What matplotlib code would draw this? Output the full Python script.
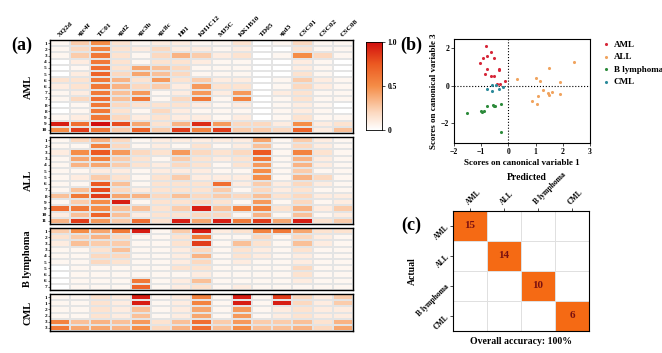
import numpy as np
import matplotlib
matplotlib.use("Agg")
import matplotlib.pyplot as plt
from matplotlib.colors import LinearSegmentedColormap

plt.rcParams['font.family'] = ['Liberation Serif', 'DejaVu Serif']
plt.rcParams['font.weight'] = 'bold'

W, H = 662, 353

# ---------------- data ----------------
aptamers = ["XQ2d", "sgc4f", "TC01", "sgd2", "sgc3b", "sgc8c", "H01", "KH1C12",
            "MJ5C", "KK1B10", "TD05", "sgd3", "CSC01", "CSC02", "CSC08"]

aml_labels = ["1", "2", "3", "4", "5", "5", "6", "6", "7", "7", "8", "8", "9", "9", "10"]
all_labels = ["1", "2", "3", "3", "4", "5", "5", "6", "7", "8", "9", "9", "10", "11"]
bly_labels = ["1", "2", "3", "3", "4", "5", "5", "6", "6", "7"]
cml_labels = ["1", "1", "2", "2", "3", "3"]

aml_values = [
    [0.05, 0.25, 0.50, 0.15, 0.05, 0.10, 0.10, 0.05, 0.05, 0.15, 0.00, 0.05, 0.20, 0.05, 0.05],
    [0.05, 0.20, 0.55, 0.15, 0.10, 0.20, 0.10, 0.10, 0.05, 0.10, 0.00, 0.00, 0.15, 0.05, 0.05],
    [0.05, 0.25, 0.60, 0.15, 0.05, 0.20, 0.35, 0.25, 0.10, 0.15, 0.00, 0.05, 0.50, 0.20, 0.05],
    [0.00, 0.10, 0.60, 0.15, 0.05, 0.15, 0.15, 0.10, 0.05, 0.05, 0.00, 0.00, 0.10, 0.05, 0.00],
    [0.00, 0.05, 0.65, 0.15, 0.40, 0.30, 0.20, 0.05, 0.05, 0.05, 0.00, 0.00, 0.10, 0.05, 0.00],
    [0.00, 0.10, 0.70, 0.20, 0.40, 0.30, 0.20, 0.05, 0.05, 0.05, 0.00, 0.00, 0.15, 0.05, 0.00],
    [0.15, 0.15, 0.60, 0.35, 0.15, 0.45, 0.15, 0.25, 0.10, 0.10, 0.00, 0.05, 0.25, 0.10, 0.05],
    [0.10, 0.15, 0.60, 0.35, 0.20, 0.25, 0.10, 0.45, 0.15, 0.15, 0.00, 0.05, 0.20, 0.10, 0.05],
    [0.05, 0.10, 0.60, 0.30, 0.45, 0.05, 0.10, 0.45, 0.10, 0.45, 0.00, 0.10, 0.15, 0.05, 0.05],
    [0.05, 0.20, 0.65, 0.30, 0.60, 0.05, 0.20, 0.60, 0.05, 0.55, 0.00, 0.05, 0.15, 0.05, 0.05],
    [0.00, 0.05, 0.60, 0.20, 0.15, 0.15, 0.15, 0.10, 0.05, 0.10, 0.00, 0.05, 0.10, 0.05, 0.00],
    [0.00, 0.05, 0.60, 0.15, 0.05, 0.20, 0.10, 0.05, 0.05, 0.05, 0.00, 0.05, 0.10, 0.05, 0.00],
    [0.05, 0.10, 0.60, 0.20, 0.10, 0.15, 0.10, 0.10, 0.05, 0.10, 0.00, 0.05, 0.15, 0.05, 0.05],
    [0.95, 0.65, 1.00, 0.80, 0.40, 0.15, 0.35, 0.90, 0.45, 0.20, 0.20, 0.10, 0.50, 0.10, 0.15],
    [0.50, 0.85, 0.60, 0.25, 0.70, 0.25, 0.85, 0.55, 0.85, 0.25, 0.25, 0.20, 0.70, 0.10, 0.30],
]

all_values = [
    [0.05, 0.20, 0.35, 0.20, 0.05, 0.10, 0.10, 0.10, 0.10, 0.10, 0.40, 0.05, 0.25, 0.10, 0.05],
    [0.05, 0.05, 0.55, 0.20, 0.05, 0.10, 0.05, 0.15, 0.05, 0.10, 0.30, 0.05, 0.20, 0.10, 0.05],
    [0.10, 0.50, 0.75, 0.45, 0.20, 0.15, 0.45, 0.20, 0.15, 0.20, 0.75, 0.05, 0.55, 0.15, 0.05],
    [0.05, 0.40, 0.55, 0.25, 0.15, 0.05, 0.25, 0.15, 0.10, 0.15, 0.60, 0.05, 0.35, 0.10, 0.05],
    [0.05, 0.35, 0.40, 0.25, 0.15, 0.10, 0.20, 0.15, 0.05, 0.15, 0.45, 0.05, 0.35, 0.10, 0.05],
    [0.05, 0.05, 0.10, 0.10, 0.05, 0.10, 0.10, 0.10, 0.05, 0.05, 0.50, 0.05, 0.25, 0.05, 0.05],
    [0.05, 0.10, 0.25, 0.15, 0.05, 0.15, 0.25, 0.10, 0.10, 0.10, 0.50, 0.05, 0.35, 0.20, 0.05],
    [0.05, 0.05, 0.75, 0.30, 0.05, 0.15, 0.15, 0.15, 0.65, 0.10, 0.25, 0.10, 0.20, 0.10, 0.05],
    [0.05, 0.30, 0.80, 0.20, 0.10, 0.15, 0.15, 0.15, 0.25, 0.05, 0.20, 0.10, 0.15, 0.05, 0.05],
    [0.30, 0.60, 0.85, 0.40, 0.35, 0.20, 0.30, 0.20, 0.25, 0.20, 0.30, 0.15, 0.20, 0.10, 0.10],
    [0.05, 0.25, 0.50, 0.95, 0.05, 0.15, 0.15, 0.20, 0.15, 0.05, 0.45, 0.05, 0.20, 0.05, 0.10],
    [0.65, 0.60, 0.50, 0.30, 0.30, 0.15, 0.25, 0.95, 0.30, 0.55, 0.55, 0.15, 0.35, 0.10, 0.25],
    [0.10, 0.30, 0.70, 0.30, 0.10, 0.15, 0.15, 0.20, 0.20, 0.05, 0.35, 0.05, 0.30, 0.05, 0.10],
    [0.35, 0.85, 0.45, 0.25, 0.65, 0.15, 0.95, 0.40, 0.95, 0.60, 0.85, 0.40, 0.95, 0.15, 0.25],
]

bly_values = [
    [0.25, 0.50, 0.40, 0.60, 0.95, 0.05, 0.25, 0.95, 0.10, 0.15, 0.55, 0.60, 0.40, 0.15, 0.15],
    [0.15, 0.25, 0.35, 0.20, 0.05, 0.05, 0.15, 0.60, 0.05, 0.05, 0.20, 0.05, 0.20, 0.10, 0.05],
    [0.10, 0.30, 0.25, 0.25, 0.05, 0.05, 0.15, 0.85, 0.05, 0.30, 0.15, 0.05, 0.30, 0.10, 0.05],
    [0.05, 0.05, 0.15, 0.30, 0.05, 0.05, 0.10, 0.20, 0.05, 0.15, 0.10, 0.05, 0.15, 0.05, 0.05],
    [0.05, 0.05, 0.20, 0.20, 0.05, 0.05, 0.10, 0.35, 0.05, 0.15, 0.10, 0.05, 0.10, 0.05, 0.05],
    [0.05, 0.05, 0.20, 0.15, 0.05, 0.05, 0.10, 0.20, 0.05, 0.10, 0.05, 0.05, 0.10, 0.05, 0.05],
    [0.00, 0.05, 0.05, 0.05, 0.05, 0.05, 0.15, 0.15, 0.05, 0.05, 0.05, 0.05, 0.20, 0.05, 0.05],
    [0.00, 0.05, 0.05, 0.05, 0.05, 0.05, 0.05, 0.10, 0.05, 0.05, 0.05, 0.05, 0.15, 0.05, 0.05],
    [0.00, 0.05, 0.05, 0.05, 0.60, 0.05, 0.10, 0.30, 0.05, 0.05, 0.05, 0.05, 0.10, 0.05, 0.05],
    [0.00, 0.05, 0.05, 0.05, 0.70, 0.05, 0.10, 0.15, 0.05, 0.10, 0.05, 0.05, 0.05, 0.05, 0.05],
]

cml_values = [
    [0.05, 0.05, 0.15, 0.10, 0.95, 0.05, 0.10, 0.55, 0.05, 0.95, 0.05, 0.85, 0.20, 0.10, 0.25],
    [0.05, 0.05, 0.15, 0.10, 0.95, 0.05, 0.10, 0.55, 0.05, 0.95, 0.05, 0.95, 0.20, 0.10, 0.25],
    [0.05, 0.05, 0.15, 0.10, 0.30, 0.05, 0.10, 0.40, 0.05, 0.45, 0.05, 0.10, 0.15, 0.10, 0.10],
    [0.05, 0.05, 0.15, 0.10, 0.30, 0.05, 0.10, 0.40, 0.05, 0.45, 0.05, 0.10, 0.15, 0.10, 0.10],
    [0.55, 0.30, 0.35, 0.30, 0.45, 0.15, 0.30, 0.65, 0.25, 0.45, 0.25, 0.25, 0.30, 0.15, 0.35],
    [0.60, 0.40, 0.40, 0.35, 0.50, 0.20, 0.35, 0.65, 0.30, 0.50, 0.30, 0.30, 0.35, 0.20, 0.40],
]

groups = ["AML", "ALL", "B lymphoma", "CML"]

# scatter (canonical scores)
aml_x = [-0.84, -0.63, -0.77, -0.93, -1.04, -0.52, -0.80, -0.36, -0.33, -0.86, -0.64, -0.52, -0.43, -0.31, -0.11]
aml_y = [2.12, 1.80, 1.61, 1.46, 1.23, 1.46, 0.91, 0.89, 0.82, 0.63, 0.52, 0.55, 0.11, 0.09, 0.27]
all_x = [0.32, 1.00, 1.15, 1.48, 2.43, 1.90, 1.28, 1.44, 1.60, 1.51, 1.07, 1.89, 0.86, 1.05]
all_y = [0.36, 0.43, 0.25, 0.96, 1.27, 0.18, -0.20, -0.38, -0.34, -0.50, -0.54, -0.43, -0.82, -0.95]
bly_x = [-1.51, -0.96, -0.90, -1.01, -0.78, -0.58, -0.49, -0.54, -0.28, -0.27]
bly_y = [-1.43, -1.39, -1.36, -1.36, -1.09, -1.00, -1.09, -1.05, -0.95, -2.45]
cml_x = [-0.77, -0.59, -0.59, -0.35, -0.21, -0.45]
cml_y = [-0.18, 0.02, -0.27, -0.16, -0.05, 0.04]

# confusion matrix
conf = [[15, 0, 0, 0],
        [0, 14, 0, 0],
        [0, 0, 10, 0],
        [0, 0, 0, 6]]

# ---------------- figure ----------------
fig = plt.figure(figsize=(W / 100, H / 100), dpi=100)


def ax_px(x0, y0, x1, y1):
    return fig.add_axes([x0 / W, 1 - y1 / H, (x1 - x0) / W, (y1 - y0) / H])


cmap = LinearSegmentedColormap.from_list(
    "wor", [(0, "#ffffff"), (0.2, "#fcd9c0"), (0.5, "#f58d47"), (0.75, "#ec5a22"), (1.0, "#d20f0f")])

hx0, hx1 = 50, 353
panels = [
    (aml_values, aml_labels, "AML", 40, 133),
    (all_values, all_labels, "ALL", 137, 224),
    (bly_values, bly_labels, "B lymphoma", 228, 290),
    (cml_values, cml_labels, "CML", 294, 331),
]
for i, (vals, labs, name, y0, y1) in enumerate(panels):
    ax = ax_px(hx0, y0, hx1, y1)
    arr = np.array(vals)
    ax.pcolormesh(arr, cmap=cmap, vmin=0, vmax=1, edgecolors="#e4e4e4", linewidth=0.3)
    ax.set_xlim(0, arr.shape[1])
    ax.set_ylim(arr.shape[0], 0)
    ax.set_yticks(np.arange(arr.shape[0]) + 0.5)
    ax.set_yticklabels(labs, fontsize=3.8, fontweight="bold")
    ax.tick_params(axis="y", length=1.2, width=0.4, pad=1)
    if i == 0:
        ax.xaxis.tick_top()
        ax.set_xticks(np.arange(len(aptamers)) + 0.5)
        ax.set_xticklabels(aptamers, rotation=45, ha="left", va="bottom",
                           fontsize=5.3, fontweight="bold", rotation_mode="anchor")
        ax.tick_params(axis="x", length=0, pad=2)
    else:
        ax.set_xticks([])
    for s in ax.spines.values():
        s.set_linewidth(1.0)
    fig.text(28 / W, 1 - ((y0 + y1) / 2) / H, name, rotation=90, ha="center", va="center",
             fontsize=7.5, fontweight="bold")

# colorbar
cax = ax_px(366, 42, 382, 130)
grad = np.linspace(0, 1, 256).reshape(-1, 1)
cax.imshow(grad, cmap=cmap, aspect="auto", origin="lower", extent=(0, 1, 0, 1))
cax.set_xticks([])
cax.yaxis.tick_right()
cax.set_yticks([0, 0.5, 1.0])
cax.set_yticklabels(["0", "0.5", "1.0"], fontsize=5.5, fontweight="bold")
cax.tick_params(axis="y", length=2, width=0.5, pad=2)
for s in cax.spines.values():
    s.set_linewidth(0.6)

# scatter (b)
bx = ax_px(454, 39, 590, 143)
col = {"AML": "#d62739", "ALL": "#f0a35e", "B lymphoma": "#2c8a3a", "CML": "#2b8a9a"}
for name, xs, ys in [("AML", aml_x, aml_y), ("ALL", all_x, all_y),
                     ("B lymphoma", bly_x, bly_y), ("CML", cml_x, cml_y)]:
    bx.scatter(xs, ys, s=5, color=col[name], label=name, linewidths=0, zorder=3)
bx.axhline(0, color="black", ls=":", lw=0.8, zorder=1)
bx.axvline(0, color="black", ls=":", lw=0.8, zorder=1)
bx.set_xlim(-2, 3)
bx.set_ylim(-3.05, 2.5)
bx.set_xticks([-2, -1, 0, 1, 2, 3])
bx.set_yticks([-2, 0, 2])
bx.tick_params(labelsize=5.5, length=2, width=0.5, pad=1.5)
for lab in bx.get_xticklabels() + bx.get_yticklabels():
    lab.set_fontweight("bold")
bx.set_xlabel("Scores on canonical variable 1", fontsize=6.5, fontweight="bold", labelpad=2)
bx.set_ylabel("Scores on canonical variable 3", fontsize=6.5, fontweight="bold", labelpad=2)
for s in bx.spines.values():
    s.set_linewidth(0.8)
bx.legend(loc="upper left", bbox_to_anchor=(1.06, 1.02), frameon=False,
          handletextpad=0.3, labelspacing=0.45, markerscale=1.0, borderaxespad=0,
          handlelength=1.0, prop={"weight": "bold", "size": 6.5})

# confusion matrix (c)
cx = ax_px(453, 211, 589, 331)
carr = np.array(conf)
n = carr.shape[0]
cm_colors = np.where(carr > 0, 1.0, 0.0)
cx.pcolormesh(cm_colors, cmap=LinearSegmentedColormap.from_list("o", ["#ffffff", "#f56a14"]),
              vmin=0, vmax=1, edgecolors="#e0e0e0", linewidth=0.5)
for r in range(n):
    for c in range(n):
        if carr[r, c] > 0:
            cx.text(c + 0.5, r + 0.5, str(carr[r, c]), ha="center", va="center",
                    fontsize=8, fontweight="bold", color="#7a1010")
cx.set_xlim(0, n)
cx.set_ylim(n, 0)
cx.xaxis.tick_top()
cx.set_xticks(np.arange(n) + 0.5)
cx.set_xticklabels(groups, rotation=45, ha="left", va="bottom", rotation_mode="anchor",
                   fontsize=5.5, fontweight="bold")
cx.set_yticks(np.arange(n) + 0.5)
cx.set_yticklabels(groups, rotation=45, ha="right", va="center", rotation_mode="anchor",
                   fontsize=5.5, fontweight="bold")
cx.tick_params(length=2, width=0.5, pad=1.5)
for s in cx.spines.values():
    s.set_linewidth(0.8)
fig.text(527 / W, 1 - 178 / H, "Predicted", ha="center", va="center", fontsize=7, fontweight="bold")
fig.text(412 / W, 1 - 271 / H, "Actual", rotation=90, ha="center", va="center",
         fontsize=7, fontweight="bold")
fig.text(521 / W, 1 - 342 / H, "Overall accuracy: 100%", ha="center", va="center",
         fontsize=7, fontweight="bold")

# panel labels
fig.text(22 / W, 1 - 45 / H, "(a)", ha="center", va="center", fontsize=13, fontweight="bold")
fig.text(411 / W, 1 - 45 / H, "(b)", ha="center", va="center", fontsize=13, fontweight="bold")
fig.text(411 / W, 1 - 225 / H, "(c)", ha="center", va="center", fontsize=13, fontweight="bold")

fig.savefig("out.png", dpi=100)
